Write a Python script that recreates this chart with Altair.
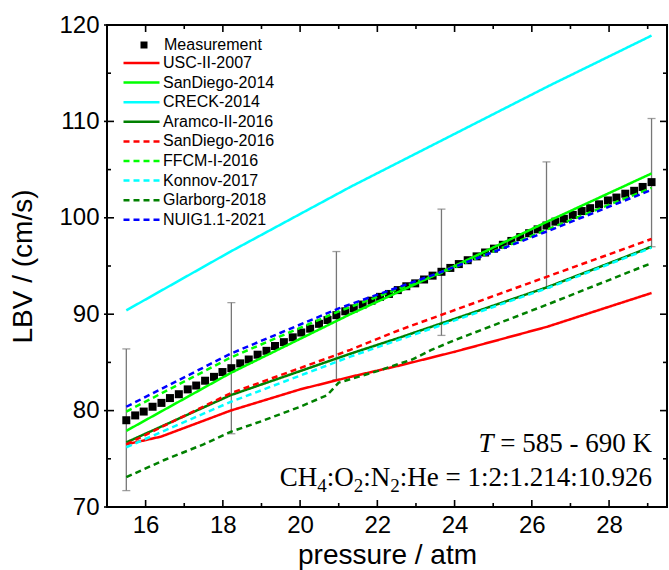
import altair as alt
import pandas as pd

# ---------------- measured laminar burning velocity ----------------
meas_pressure = [15.50, 15.73, 15.95, 16.18, 16.41, 16.63, 16.86, 17.09, 17.31, 17.54,
                 17.77, 17.99, 18.22, 18.45, 18.67, 18.90, 19.13, 19.35, 19.58, 19.81,
                 20.03, 20.26, 20.49, 20.71, 20.94, 21.17, 21.39, 21.62, 21.85, 22.07,
                 22.30, 22.53, 22.75, 22.98, 23.21, 23.43, 23.66, 23.89, 24.11, 24.34,
                 24.57, 24.79, 25.02, 25.25, 25.47, 25.70, 25.93, 26.15, 26.38, 26.61,
                 26.83, 27.06, 27.29, 27.51, 27.74, 27.97, 28.19, 28.42, 28.65, 28.87,
                 29.10]
meas_lbv = [79.0, 79.5, 79.9, 80.4, 80.8, 81.3, 81.7, 82.2, 82.6, 83.1, 83.5, 84.0, 84.4,
            84.9, 85.3, 85.8, 86.2, 86.7, 87.1, 87.6, 88.1, 88.5, 89.0, 89.4, 89.9,
            90.3, 90.6, 91.0, 91.4, 91.8, 92.1, 92.5, 92.9, 93.2, 93.6, 94.0, 94.4,
            94.8, 95.2, 95.6, 96.0, 96.4, 96.8, 97.2, 97.6, 98.0, 98.4, 98.8, 99.2,
            99.6, 99.9, 100.3, 100.7, 101.0, 101.4, 101.8, 102.1, 102.5, 102.8, 103.2, 103.7]

# uncertainty bars
bar_pressure = [15.50, 18.22, 20.94, 23.66, 26.38, 29.10]
bar_low = [71.7, 77.6, 83.2, 87.8, 92.7, 97.0]
bar_high = [86.4, 91.2, 96.5, 100.9, 105.8, 110.3]

# ---------------- kinetic-model predictions ----------------
usc_p = [15.5, 16.4, 18.2, 20.0, 21.3, 22.6, 24.0, 26.4, 29.1]
usc_v = [76.5, 77.3, 80.0, 82.2, 83.5, 84.7, 86.1, 88.7, 92.2]
sd14_p = [15.5, 18.2, 21.3, 24.0, 26.4, 29.1]
sd14_v = [77.9, 83.9, 90.0, 95.0, 99.6, 104.6]
creck_p = [15.5, 18.2, 21.3, 23.9, 26.45, 29.1]
creck_v = [90.4, 96.5, 103.2, 108.5, 113.7, 118.9]
aramco_p = [15.5, 18.2, 21.3, 22.6, 26.4, 29.1]
aramco_v = [76.7, 81.6, 85.9, 87.6, 92.8, 97.0]
sd16_p = [15.5, 18.2, 21.3, 22.6, 26.4, 29.1]
sd16_v = [76.5, 81.8, 86.3, 88.4, 93.9, 97.8]
ffcm_p = [15.5, 18.2, 21.0, 23.6, 26.4, 29.1]
ffcm_v = [79.9, 85.5, 90.3, 94.2, 98.8, 103.1]
konnov_p = [15.5, 18.2, 21.3, 22.6, 26.4, 29.1]
konnov_v = [76.2, 80.9, 85.6, 87.4, 92.7, 96.9]
glar_p = [15.5, 16.5, 17.5, 18.2, 19.0, 20.0, 20.7, 21.0, 22.0, 22.9, 23.4, 24.0, 26.4, 29.1]
glar_v = [73.1, 74.9, 76.5, 77.8, 78.9, 80.4, 81.6, 82.9, 84.1, 85.3, 86.3, 87.3, 91.0, 95.3]
nuig_p = [15.5, 18.2, 21.0, 23.6, 26.4, 29.1]
nuig_v = [80.4, 85.9, 90.6, 94.3, 98.6, 102.9]

mechanisms = ["USC-II-2007", "SanDiego-2014", "CRECK-2014", "Aramco-II-2016",
              "SanDiego-2016", "FFCM-I-2016", "Konnov-2017", "Glarborg-2018",
              "NUIG1.1-2021"]
curves = [(usc_p, usc_v), (sd14_p, sd14_v), (creck_p, creck_v), (aramco_p, aramco_v),
          (sd16_p, sd16_v), (ffcm_p, ffcm_v), (konnov_p, konnov_v), (glar_p, glar_v),
          (nuig_p, nuig_v)]
mech_colors = ["#ff0000", "#00ff00", "#00ffff", "#008000",
               "#ff0000", "#00ff00", "#00ffff", "#008000", "#0000ff"]
SOLID, DASH = [1, 0], [6, 4]
mech_dashes = [SOLID, SOLID, SOLID, SOLID, DASH, DASH, DASH, DASH, DASH]

# axis tick positions
x_major = [16, 18, 20, 22, 24, 26, 28]
x_minor = [15, 17, 19, 21, 23, 25, 27, 29]
y_major = [70, 80, 90, 100, 110, 120]
y_minor = [75, 85, 95, 105, 115]

# ---------------- tables ----------------
rows = []
for name, (ps, vs) in zip(mechanisms, curves):
    for i, (p, v) in enumerate(zip(ps, vs)):
        rows.append({"mechanism": name, "order": i, "pressure": p, "lbv": v})
models = pd.DataFrame(rows)
meas = pd.DataFrame({"pressure": meas_pressure, "lbv": meas_lbv, "label": "Measurement"})
bars = pd.DataFrame({"pressure": bar_pressure, "lo": bar_low, "hi": bar_high})
anchor = pd.DataFrame({"k": [0]})

W, H = 560, 482
SANS = "Liberation Sans"
SERIF = "Liberation Serif"

xs = alt.Scale(domain=[15, 29.5], nice=False, zero=False)
ys = alt.Scale(domain=[70, 120], nice=False, zero=False)
x_axis = alt.Axis(values=x_major, ticks=False, tickSize=0, domain=False, grid=False,
                  labelFont=SANS, labelFontSize=24, labelColor="black", labelPadding=6,
                  title="pressure / atm", titleFont=SANS, titleFontSize=28,
                  titleFontWeight="normal", titleColor="black",
                  titleY=56, titleBaseline="alphabetic")
y_axis = alt.Axis(values=y_major, ticks=False, tickSize=0, domain=False, grid=False,
                  labelFont=SANS, labelFontSize=24, labelColor="black", labelPadding=8,
                  title="LBV / (cm/s)", titleFont=SANS, titleFontSize=28,
                  titleFontWeight="normal", titleColor="black", titleAngle=270,
                  titleX=-76, titleY=H / 2, titleAlign="center", titleBaseline="alphabetic")
X = alt.X("pressure:Q", scale=xs, axis=x_axis)
Y = alt.Y("lbv:Q", scale=ys, axis=y_axis)

# error bars with caps
ERR = "#777777"
err_rule = alt.Chart(bars).mark_rule(color=ERR, strokeWidth=1.3).encode(
    x=X, y=alt.Y("lo:Q", scale=ys, axis=y_axis), y2="hi:Q")
cap_lo = alt.Chart(bars).mark_tick(color=ERR, thickness=1.3, size=8, orient="horizontal").encode(
    x=X, y=alt.Y("lo:Q", scale=ys, axis=y_axis))
cap_hi = alt.Chart(bars).mark_tick(color=ERR, thickness=1.3, size=8, orient="horizontal").encode(
    x=X, y=alt.Y("hi:Q", scale=ys, axis=y_axis))

# measured points
squares = alt.Chart(meas).mark_point(filled=True, size=64, opacity=1, shape="square").encode(
    x=X, y=Y, color=alt.value("black"),
    shape=alt.Shape("label:N", scale=alt.Scale(domain=["Measurement"], range=["square"]),
                    legend=alt.Legend(title=None, orient="none", legendX=29, legendY=12,
                                      symbolSize=49, symbolFillColor="black",
                                      symbolStrokeWidth=0, labelOffset=12,
                                      labelFont=SANS, labelFontSize=16, labelColor="black",
                                      padding=0)))

# model curves
line_legend = alt.Legend(title=None, orient="none", legendX=15, legendY=30,
                         symbolType="stroke", symbolSize=1296, symbolStrokeWidth=2.5,
                         labelOffset=2, labelFont=SANS, labelFontSize=16,
                         labelColor="black", padding=0, rowPadding=3.6, clipHeight=16)
lines = alt.Chart(models).mark_line(strokeWidth=2.5).encode(
    x=X, y=Y, order="order:Q",
    color=alt.Color("mechanism:N", scale=alt.Scale(domain=mechanisms, range=mech_colors),
                    legend=line_legend),
    strokeDash=alt.StrokeDash("mechanism:N", scale=alt.Scale(domain=mechanisms, range=mech_dashes),
                              legend=line_legend))

# frame ticks (drawn inward)
def xticks(values, y0, y1):
    return alt.Chart(pd.DataFrame({"pressure": values})).mark_rule(
        color="black", strokeWidth=1.6).encode(x=X, y=alt.value(y0), y2=alt.value(y1))

def yticks(values, x0, x1):
    return alt.Chart(pd.DataFrame({"lbv": values})).mark_rule(
        color="black", strokeWidth=1.6).encode(y=Y, x=alt.value(x0), x2=alt.value(x1))

frame_ticks = [
    xticks(x_major, H, H - 7), xticks(x_minor, H, H - 4),
    xticks(x_major, 0, 7), xticks(x_minor, 0, 4),
    yticks(y_major, -3, 7), yticks(y_minor, 0, 4),
    yticks(y_major, W, W - 7), yticks(y_minor, W, W - 4),
]

# annotation text
def label(text, x, y, size=27, italic=False, align="right"):
    return alt.Chart(anchor).mark_text(
        text=text, font=SERIF, fontSize=size, fontStyle="italic" if italic else "normal",
        align=align, baseline="alphabetic", color="black").encode(
        x=alt.value(x), y=alt.value(y))

RIGHT = 545
SUB = 19
notes = [
    label("= 585 - 690 K", RIGHT, 427),
    label("T", RIGHT - 27 * 5.869, 427, italic=True),
    label(":He = 1:2:1.214:10.926", RIGHT, 461),
    label("2", RIGHT - 252.2, 467, size=SUB),
    label(":N", RIGHT - 252.2 - SUB * 0.5, 461),
    label("2", RIGHT - 279.2 - SUB * 0.5, 467, size=SUB),
    label(":O", RIGHT - 279.2 - SUB * 1.0, 461),
    label("4", RIGHT - 306.2 - SUB * 1.0, 467, size=SUB),
    label("CH", RIGHT - 306.2 - SUB * 1.5, 461),
]

chart = alt.layer(err_rule, cap_lo, cap_hi, squares, lines, *frame_ticks, *notes).properties(
    width=W, height=H,
    padding={"left": 107, "top": 25, "right": 2, "bottom": 63},
    autosize=alt.AutoSizeParams(type="none"),
    background="white",
).configure_view(stroke="black", strokeWidth=2)

chart.save("out.html", embed_options={"renderer": "svg", "actions": False})
